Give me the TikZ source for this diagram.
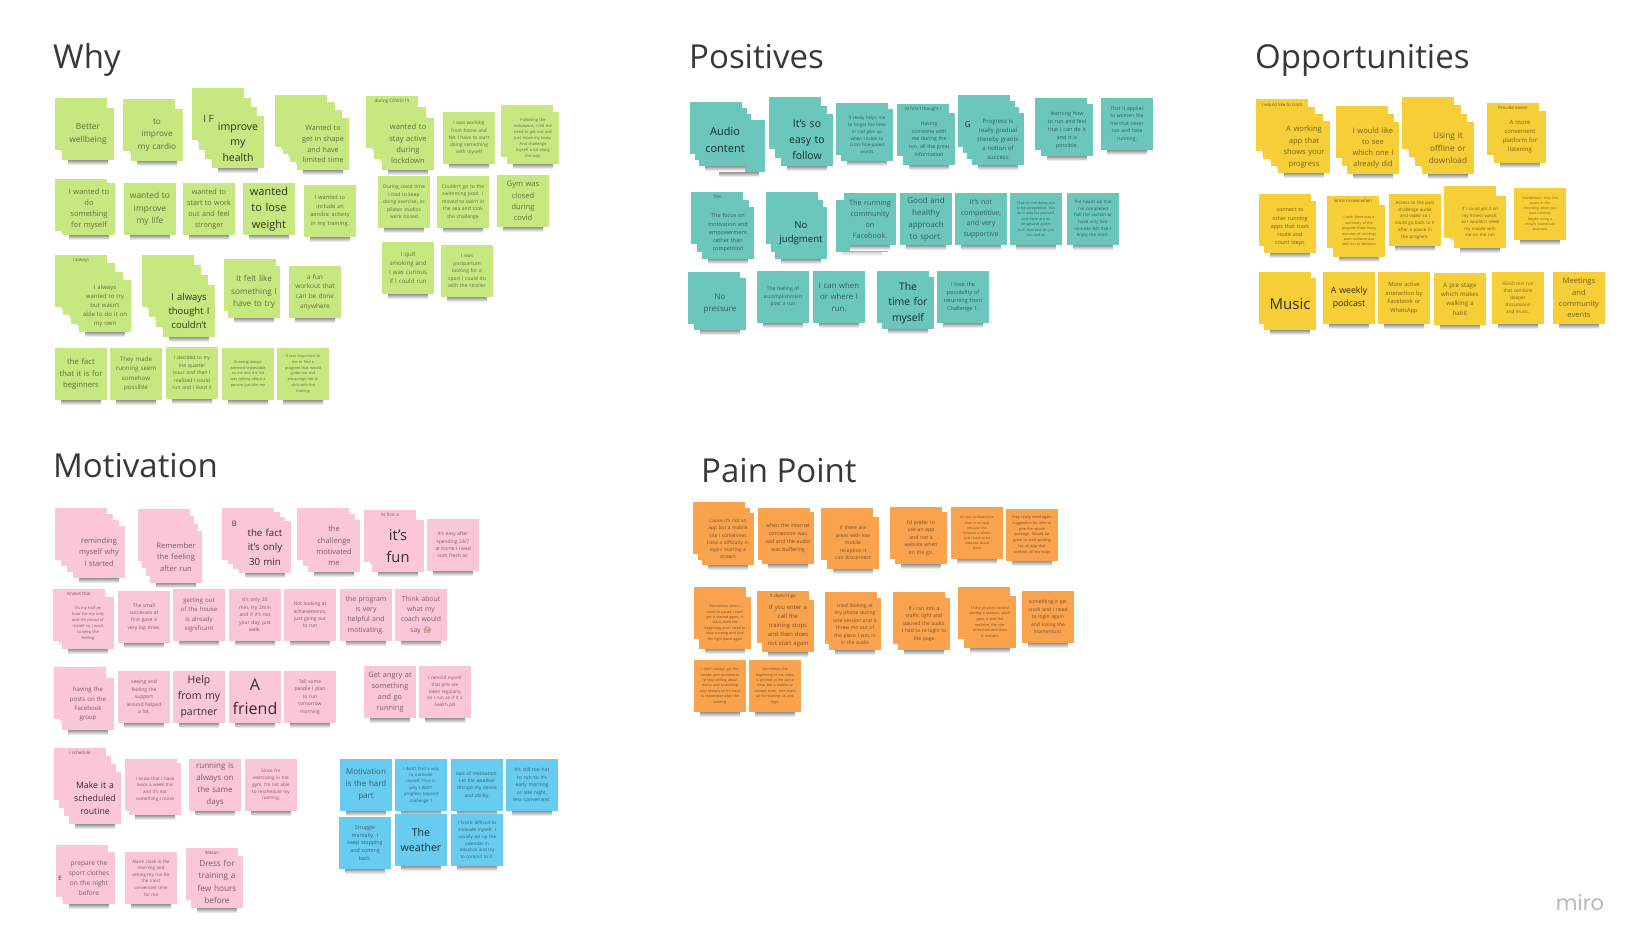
\documentclass[tikz,border=0pt]{standalone}
\usepackage{fontspec}
\usepackage{xcolor}
\setmainfont{Open Sans}
\newfontfamily\emojifont{Noto Emoji}
\newfontfamily\logofont{Poppins}
\usetikzlibrary{positioning}

\definecolor{WhyGreen}{HTML}{C7E880}
\definecolor{PosTeal}{HTML}{6BC6BC}
\definecolor{OppYellow}{HTML}{F6CE38}
\definecolor{MotPink}{HTML}{FBC6D8}
\definecolor{HardBlue}{HTML}{68CCF0}
\definecolor{PainOrange}{HTML}{F9A34F}

\newcommand{\notesize}[1]{\fontsize{#1pt}{\dimexpr#1pt*150/100\relax}\selectfont}

\tikzset{
  note/.style={fill=notecol, align=center, text width=47pt,
    inner xsep=2.5pt, inner ysep=0pt, outer sep=0pt, minimum height=52pt},
  noteshadow/.style={top color=black!42, bottom color=white},
  rearshadow/.style={top color=black!16, bottom color=white},
  peek/.style={text=notecol!45!black, font=\notesize{4.5}, inner sep=0pt},
  bigpeek/.style={text=notecol!30!black, inner sep=0pt},
  heading/.style={font=\fontsize{33pt}{38pt}\selectfont, text=black!78, anchor=base west, inner sep=0pt}
}

% one note, x and y are its top left corner
\newcommand{\card}[5]{%
  \shade[noteshadow] ({#2+6},{#3+52}) rectangle +(40,5);
  \ifdim#4pt<8.5pt\def\notetext{notecol!48!black}\else\def\notetext{notecol!22!black}\fi
  \node[note, text=\notetext, font=\notesize{#4}] (#1) at ({#2+26},{#3+26}) {#5};
}
% pile of n notes behind the front one, each shifted by dx,dy
\newcommand{\pile}[8][]{%
  \foreach \i in {#4,...,1} {
    \shade[rearshadow] ({#2+6-\i*#5},{#3+52-\i*#6}) rectangle +(40,4);
    \node[note] (#2#3-\i) at ({#2+26-\i*#5},{#3+26-\i*#6}) {};
    \ifnum\i=#4\relax
      \if\relax\detokenize{#1}\relax\else
        \node[peek, below=3pt of #2#3-\i.north] (#2#3-top) {#1};
      \fi
    \fi
  }
  \card{#2#3-front}{#2}{#3}{#7}{#8}
}

\begin{document}
\begin{tikzpicture}[x=1pt, y=-1pt]
  \useasboundingbox (0,0) rectangle (1644,950);
  \fill[white] (0,0) rectangle (1644,950);

  % Titles
  \node[heading] (whyT) at (53,69) {Why};
  \node[heading] (posT) at (689,69) {Positives};
  \node[heading] (oppT) at (1255,69) {Opportunities};
  \node[heading] (motT) at (53,477) {Motivation};
  \node[heading] (painT) at (701,482) {Pain Point};
  \node[font=\logofont\fontsize{21pt}{24pt}\selectfont, text=black!28, inner sep=0pt] (logo) at (1580,903) {miro};

  % Why
  \colorlet{notecol}{WhyGreen}
  \pile{62}{108}{1}{7}{10}{8.4}{Better\\wellbeing}
  \pile{131}{109}{1}{8}{10}{8.2}{to\\improve\\my cardio}
  \pile{212}{116}{3}{6.7}{9.2}{10.5}{improve\\my\\health}
  \node[bigpeek, font=\notesize{10}, left=-2pt of 212116-front.north west, yshift=-3pt] (why3p) {I F};
  \pile{297}{118}{3}{7.2}{7.8}{7.2}{Wanted to\\get in shape\\and have\\limited time}
  \pile[during COVID-19]{382}{118}{2}{8}{11}{7.6}{wanted to\\stay active\\during\\lockdown}
  \card{why6}{443}{112}{4.8}{I was working\\from home and\\felt I have to start\\doing something\\with myself}
  \pile{507}{112}{1}{6}{7}{4}{Following the\\lockdowns, I felt the\\need to get out and\\just move my body.\\And challenge\\myself a bit along\\the way.}
  \pile{63}{183}{1}{8}{4}{7.5}{I wanted to\\do\\something\\for myself}
  \card{why9}{124}{183}{8.4}{wanted to\\improve\\my life}
  \card{why10}{183}{183}{7.2}{wanted to\\start to work\\out and feel\\stronger}
  \card{why11}{243}{183}{11}{wanted\\to lose\\weight}
  \card{why12}{304}{185}{5.6}{I wanted to\\include an\\aerobic activity\\in my training.}
  \card{why13}{378}{176}{5}{During covid time\\I had to keep\\doing exercise, as\\pilates studios\\were closed}
  \card{why14}{437}{176}{5}{Couldn't go to the\\swimming pool. I\\moved to swim in\\the sea and took\\the challenge}
  \card{why15}{497}{175}{7.5}{Gym was\\closed\\during\\covid}
  \card{why16}{382}{242}{6.1}{I quit\\smoking and\\I was curious\\if I could run}
  \card{why17}{441}{245}{5}{I was\\postpartum\\looking for a\\sport I could do\\with the stroller}
  \pile[I always]{79}{280}{3}{8}{8.3}{6}{I always\\wanted to try\\but wasn't\\able to do it on\\my own}
  \pile{163}{285}{3}{7.1}{10}{9.5}{I always\\thought I\\couldn't}
  \pile{228}{266}{1}{4}{7}{8.2}{It felt like\\something I\\have to try}
  \card{why21}{289}{266}{6.5}{a fun\\workout that\\can be done\\anywhere}
  \card{why22}{55}{348}{7.7}{the fact\\that it is for\\beginners}
  \card{why23}{110}{348}{6.2}{They made\\running seem\\somehow\\possible}
  \card{why24}{166}{347}{5}{I decided to try\\the quarter\\hour and then I\\realized I could\\run and I liked it}
  \card{why25}{222}{348}{3.8}{Running always\\seemed impossible\\to me and the Ad\\was talking about a\\person just like me}
  \card{why26}{277}{348}{3.8}{It was important to\\me to find a\\program that would\\guide me and\\encourage me to\\stick with the\\training}

  % Positives
  \colorlet{notecol}{PosTeal}
  \card{pos1b}{713}{120}{5}{}
  \pile{699}{114}{2}{4.5}{6}{11}{Audio\\content}
  \pile{781}{114}{2}{6}{8.5}{10.5}{It's so\\easy to\\follow}
  \pile{841}{109}{1}{5}{6}{4.5}{It really helps me\\to forget the time\\or not give up\\when I listen to\\Lisa's fine-paced\\words}
  \pile[At first I thought I]{903}{113}{1}{6}{9}{5.2}{Having\\someone with\\me during the\\run, all the great\\information}
  \pile{972}{113}{3}{4.7}{6}{6}{Progress is\\really gradual\\thereby grants\\a notion of\\success}
  \node[bigpeek, font=\notesize{8}, left=1pt of 972113-front.north west, yshift=-12pt] (pos5p) {G};
  \pile{1041}{104}{1}{6}{6}{5.4}{learning how\\to run and feel\\that I can do it\\and it is\\possible.}
  \card{pos7}{1101}{98}{5}{That it applies\\to women like\\me that never\\run and hate\\running.}
  \pile[The]{702}{207}{2}{5.5}{7.5}{5.5}{The focus on\\motivation and\\empowerment\\rather than\\competition}
  \pile{775}{207}{2}{4.5}{7.5}{9.6}{No\\judgment}
  \pile{844}{193}{1}{8}{-7}{7.3}{The running\\community\\on\\Facebook.}
  \card{pos11}{900}{193}{8}{Good and\\healthy\\approach\\to sport.}
  \card{pos12}{955}{193}{7}{It's not\\competitive,\\and very\\supportive}
  \card{pos13}{1010}{193}{3.6}{That it's not doing you\\to be competitive. You\\do it only for yourself,\\and there are no\\designated points\\such how fast do you\\run and so}
  \card{pos14}{1067}{193}{4.4}{The heads-up that\\I've completed\\half the section or\\have only two\\minutes left that I\\enjoy the most.}
  \pile{694}{278}{1}{6}{6}{8}{No\\pressure}
  \card{pos16}{757}{271}{5}{The feeling of\\accomplishment\\post a run}
  \card{pos17}{813}{271}{7.8}{I can when\\or where I\\run.}
  \pile{882}{277}{1}{5}{6}{10.4}{The\\time for\\myself}
  \card{pos19}{937}{271}{5.5}{I love the\\possibility of\\returning from\\Challenge 1.}

  % Opportunities
  \colorlet{notecol}{OppYellow}
  \pile[I would like to track]{1278}{121}{3}{7.3}{7.2}{7.6}{A working\\app that\\shows your\\progress}
  \pile{1347}{122}{2}{5.3}{8}{7.5}{I would like\\to see\\which one I\\already did}
  \pile{1422}{122}{3}{6.7}{8.3}{8.3}{Using it\\offline or\\download}
  \pile[Provide easier]{1494}{111}{1}{7}{8}{6}{A more\\convenient\\platform for\\listening}
  \pile{1264}{201}{1}{5}{7}{5.4}{connect to\\other running\\apps that track\\route and\\count steps}
  \pile[Since I knew when]{1333}{205}{1}{6}{9}{3.6}{I wish there was a\\summary of the\\program (how many\\minutes of running)\\each run/one was\\and run or distance}
  \card{opp7}{1389}{194}{4.5}{Access to the past\\challenge audio\\and video so I\\could go back to it\\after a pause in\\the program.}
  \pile{1454}{196}{1}{10}{10}{4.3}{If I could get it on\\my fitness watch,\\so I wouldn't need\\my mobile with\\me on the run}
  \card{opp9}{1514}{188}{3.5}{Sometimes I miss the\\space in the\\recording when you\\start running.\\Maybe using a\\certain soundtrack\\example.}
  \pile{1264}{278}{1}{5}{6}{15}{Music}
  \card{opp11}{1323}{272}{8.8}{A weekly\\podcast}
  \card{opp12}{1378}{272}{5.7}{More active\\interaction by\\Facebook or\\WhatsApp}
  \card{opp13}{1434}{273}{6.2}{A pre stage\\which makes\\walking a\\habit}
  \card{opp14}{1492}{272}{4.6}{45/60 min run\\that combine\\deeper\\discussions\\and music.}
  \card{opp15}{1553}{272}{7.6}{Meetings\\and\\community\\events}

  % Motivation
  \colorlet{notecol}{MotPink}
  \pile{73}{526}{3}{6}{6}{7.5}{reminding\\myself why\\I started}
  \pile{150}{531}{3}{4}{7.3}{7.6}{Remember\\the feeling\\after run}
  \pile{239}{521}{3}{5.7}{4.3}{9.7}{the fact\\it's only\\30 min}
  \node[bigpeek, font=\notesize{7.5}, left=2pt of 239521-front.north west, yshift=-3pt] (mot3p) {B};
  \pile{308}{520}{2}{5.5}{6}{7.5}{the\\challenge\\motivated\\me}
  \pile[At first a]{372}{520}{1}{8}{10}{14.7}{it's\\fun}
  \card{mot6}{427}{519}{4.9}{It's easy after\\spending 24/7\\at home I need\\som fresh air}
  \pile[Knows that]{62}{597}{1}{9}{8}{4}{It's my half an\\hour for me only\\and I'm proud of\\myself so I want\\to keep the\\feeling}
  \card{mot8}{118}{591}{4.9}{The small\\successes at\\first gave a\\very big drive.}
  \card{mot9}{173}{589}{6.1}{getting out\\of the house\\is already\\significant}
  \card{mot10}{229}{589}{5}{It's only 30\\min, try 2min\\and if it's not\\your day, just\\walk.}
  \card{mot11}{284}{589}{4.9}{Not looking at\\achievements,\\just going out\\to run}
  \card{mot12}{340}{589}{6.9}{the program\\is very\\helpful and\\motivating.}
  \card{mot13}{395}{589}{6.8}{Think about\\what my\\coach would\\say {\emojifont\textcolor{brown!60!black}{🙊}}}
  \pile{62}{678}{1}{8}{11}{6.1}{having the\\posts on the\\Facebook\\group}
  \card{mot15}{118}{671}{5}{seeing and\\feeling the\\support\\around helped\\a lot.}
  \card{mot16}{173}{671}{10.5}{Help\\from my\\partner}
  \card{mot17}{229}{671}{16}{A\\friend}
  \card{mot18}{284}{671}{5}{Tell some\\people I plan\\to run\\tomorrow\\morning}
  \card{mot19}{364}{666}{7.4}{Get angry at\\something\\and go\\running}
  \card{mot20}{419}{666}{4.5}{I remind myself\\that pills are\\taken regularly,\\so I run as if it a\\health pill}
  \pile[I schedule]{69}{772}{3}{5}{8}{8.7}{Make it a\\scheduled\\routine}
  \pile{129}{763}{1}{4}{4}{4.5}{I know that I have\\twice a week this\\and it's not\\something I move}
  \card{mot23}{189}{759}{8}{running is\\always on\\the same\\days}
  \card{mot24}{245}{759}{4.6}{Since I'm\\exercising in the\\gym, I'm not able\\to reschedule my\\running.}
  \pile{63}{852}{1}{7}{7}{6.6}{prepare the\\sport clothes\\on the night\\before}
  \node[bigpeek, font=\notesize{6}, left=1pt of 63852-front] (mot25p) {E};
  \card{mot26}{125}{852}{4.4}{Alarm clock in the\\morning and\\setting my run for\\the most\\convenient time\\for me}
  \pile[3Mean]{191}{856}{1}{5}{8}{8.2}{Dress for\\training a\\few hours\\before}

  % Hard part
  \colorlet{notecol}{HardBlue}
  \card{hard1}{340}{759}{8}{Motivation\\is the hard\\part}
  \card{hard2}{395}{759}{4.3}{I didn't find a way\\to motivate\\myself, thus is\\why I didn't\\progress beyond\\challenge 1}
  \card{hard3}{451}{759}{4.8}{lack of motivation.\\Let the weather\\disrupt my desire\\and ability.}
  \card{hard4}{506}{759}{5}{It's still too hot\\to run so it's\\early morning\\or late night,\\less convenient.}
  \card{hard5}{339}{817}{5.3}{Struggle\\mentally. I\\keep stopping\\and coming\\back.}
  \card{hard6}{395}{814}{10.6}{The\\weather}
  \card{hard7}{451}{814}{4.5}{I find it difficult to\\motivate myself. I\\usually set up the\\calendar in\\advance and try\\to commit to it.}

  % Pain Point
  \colorlet{notecol}{PainOrange}
  \pile{702}{513}{2}{4.5}{5.5}{4.8}{Cause it's not an\\app but a mobile\\site I sometimes\\have a difficulty in\\login/ starting a\\stream}
  \pile{762}{512}{1}{4}{4}{5.2}{when the internet\\connection was\\sad and the audio\\was buffering}
  \pile{827}{517}{1}{6}{9}{5}{if there are\\areas with low\\mobile\\reception it\\can disconnect}
  \pile{895}{512}{1}{5}{5}{5.1}{I'd prefer to\\use an app\\and not a\\website when\\on the go.}
  \card{pain5}{951}{507}{3.4}{It's less cumbersome\\than in an app\\because the\\browser is blown\\and I have to be\\intrusive about\\them}
  \card{pain6}{1006}{509}{3.8}{they really need again\\suggestion be able to\\give the whole\\package. Would be\\great to start putting\\for an app that\\controls all the bugs}
  \pile{699}{597}{1}{5}{10}{3.6}{Sometimes when I\\need to pause I can't\\get it started again. It\\starts from the\\beginning and I need to\\stop running and find\\the right place again}
  \pile[It doesn't go]{762}{600}{1}{5}{9}{5.9}{If you enter a\\call the\\training stops\\and then does\\not start again}
  \pile{829}{598}{1}{4}{6}{5}{tried looking at\\my phone during\\one session and it\\threw me out of\\the place I was in\\in the audio}
  \pile{898}{598}{1}{5}{6}{5}{If I ran into a\\traffic light and\\paused the audio\\I had to re login to\\the page}
  \pile{964}{596}{1}{6}{9}{3.8}{If the phone's locked\\during a session, you'll\\pass it and the\\website, the site\\refreshes and then\\it restarts}
  \card{pain12}{1022}{591}{5}{something it get\\stuck and I need\\to login again\\and losing the\\momentum.}
  \card{pain13}{694}{660}{3.6}{I didn't always get the\\results and sometimes\\I'd stop trifling about\\menu and scratching\\why (deeply or it's hard\\to remember after the\\training}
  \card{pain14}{749}{660}{3.6}{Sometimes the\\beginning of the video\\is printed at the same\\time, like a mobile at\\current state. And that's\\all for training on and\\login}
\end{tikzpicture}
\end{document}
